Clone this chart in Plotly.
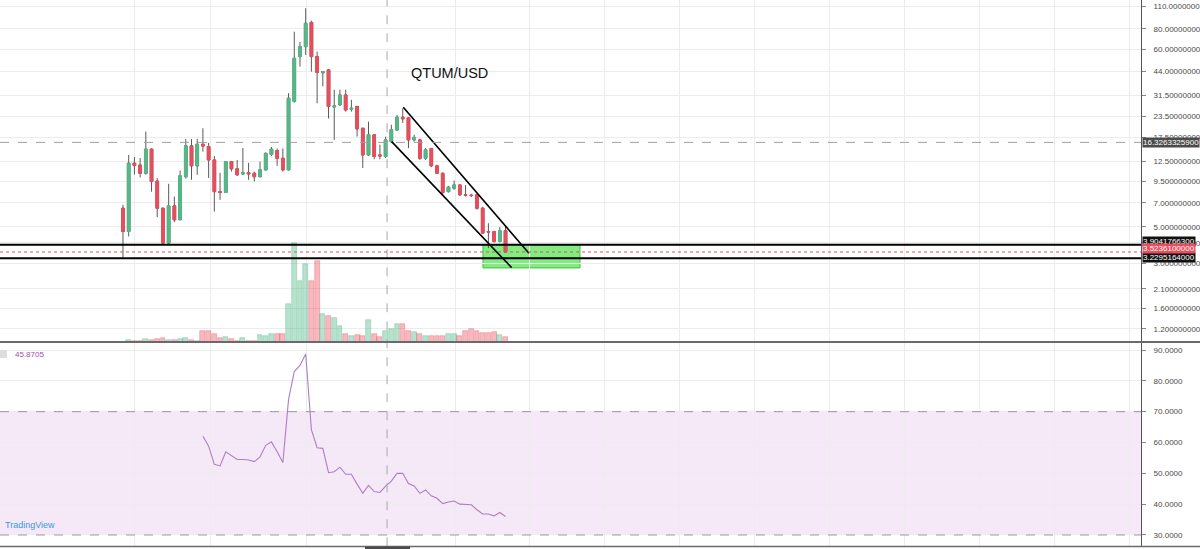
import math
import plotly.graph_objects as go

# ---------------- data ----------------
candle_idx = list(range(1, 69))

opens = [6.50, 4.69, 12.2, 11.9, 10.6, 14.85, 9.5, 6.5, 3.99, 6.72, 5.53, 10.1, 15.55, 11.76,
         15.9, 15.4, 12.77, 8.2, 8.1, 12.48, 11.28, 10.5, 10.7, 10.6, 10.1, 11.12, 13.8, 14.55,
         13.07, 11.12, 28.9, 54.2, 62.3, 87.5, 54.2, 43.2, 45.0, 26.8, 27.6, 31.7, 26.0, 27.0,
         19.9, 13.7, 18.15, 13.7, 13.4, 16.5, 19.4, 23.2, 23.0, 16.9, 16.9, 13.07, 15.0, 11.76,
         10.6, 8.2, 8.6, 9.0, 7.84, 7.8, 7.84, 6.5, 4.69, 4.69, 4.08, 4.75]
highs = [6.82, 13.7, 13.3, 13.1, 19.0, 15.0, 9.9, 6.55, 9.15, 7.66, 11.0, 17.1, 17.1, 17.1,
         19.9, 16.2, 13.5, 10.66, 12.5, 12.5, 12.77, 15.1, 12.26, 10.85, 12.48, 14.2, 15.3, 15.0,
         15.0, 32.5, 76.8, 66.7, 106.5, 89.5, 58.1, 44.3, 45.4, 34.1, 34.1, 34.1, 29.6, 27.2,
         20.0, 21.8, 18.2, 15.8, 17.7, 20.9, 23.9, 26.3, 23.3, 18.15, 17.2, 15.1, 15.1, 11.93,
         10.7, 8.89, 9.57, 9.02, 9.0, 7.95, 8.0, 6.63, 5.27, 4.7, 5.0, 5.0]
lows = [3.25, 4.38, 10.4, 10.0, 10.4, 8.2, 5.74, 3.94, 3.94, 5.35, 5.5, 9.84, 9.67, 10.37,
        14.35, 9.93, 6.2, 7.31, 8.1, 10.85, 10.22, 10.37, 9.67, 9.44, 10.0, 11.0, 13.5, 11.76,
        10.85, 11.0, 28.5, 47.1, 55.5, 43.9, 28.2, 35.8, 22.8, 16.9, 27.2, 25.1, 25.1, 17.7,
        11.4, 13.5, 12.9, 12.9, 13.1, 16.15, 19.2, 21.4, 15.05, 16.5, 12.77, 12.77, 11.55, 10.5,
        7.84, 8.09, 8.41, 7.73, 7.65, 7.6, 6.36, 4.55, 3.72, 4.02, 4.02, 3.50]
closes = [4.69, 12.2, 11.8, 10.6, 14.85, 9.44, 6.5, 3.99, 6.72, 5.53, 10.22, 15.55, 11.76, 15.9,
          15.5, 12.77, 8.2, 8.1, 12.48, 11.28, 10.37, 10.7, 10.5, 10.1, 11.12, 14.0, 14.85, 13.07,
          11.12, 30.3, 52.9, 62.3, 86.4, 54.2, 43.4, 44.0, 27.0, 27.2, 31.7, 25.7, 26.3, 19.7,
          13.7, 18.15, 13.4, 13.5, 16.9, 19.5, 23.2, 22.7, 16.9, 17.5, 13.07, 14.7, 11.76, 10.6,
          8.09, 8.73, 9.0, 7.84, 7.8, 7.76, 6.5, 4.59, 4.66, 4.08, 4.75, 3.5236]
volumes = [0.5, 1.5, 1.0, 0.8, 2.5, 2.0, 3.0, 3.5, 2.0, 1.5, 2.5, 3.7, 2.3, 1.2, 11, 11, 8, 4,
           5, 3, 1.2, 4, 1.2, 1.0, 7, 6, 8, 8, 8, 38, 98, 61, 78, 61, 81, 28, 26, 24, 16, 8, 6,
           7, 6, 22, 8, 5, 11, 13, 18, 18, 11, 10, 8, 6, 6, 6, 6, 8, 8, 6, 11, 13, 11, 9, 9, 10,
           7, 5]

rsi_idx = list(range(15, 69))
rsi_vals = [62.0, 58.8, 52.9, 52.4, 57.0, 55.6, 54.5, 54.5, 54.3, 53.8, 55.3, 59.1, 60.2, 57.0,
            53.5, 74.0, 83.0, 85.0, 88.7, 64.2, 58.3, 58.1, 50.2, 50.5, 52.0, 49.7, 49.7, 46.5,
            43.5, 46.1, 44.1, 43.8, 45.87, 47.5, 50.0, 50.0, 46.7, 45.9, 43.5, 44.6, 42.7, 41.9,
            40.2, 40.7, 41.0, 40.0, 40.0, 39.8, 38.2, 36.8, 36.8, 36.2, 37.3, 36.0]

price_ticks = [110, 80, 60, 44, 31.5, 23.5, 17.5, 12.5, 9.5, 7.0, 5.0, 4.0, 3.0, 2.1, 1.6, 1.2]
price_tick_text = ["110.0000000", "80.00000000", "60.00000000", "44.00000000", "31.50000000",
                   "23.50000000", "17.50000000", "12.50000000", "9.500000000", "7.000000000",
                   "5.000000000", "4.000000000", "3.000000000", "2.100000000", "1.600000000",
                   "1.200000000"]
rsi_ticks = [90, 80, 70, 60, 50, 40, 30]
time_grid = [3.1, 16.24, 33.22, 59.32, 72.28, 85.41, 98.55, 111.68, 124.82, 137.95, 151.09,
             164.22, 177.36]

# drawings
crosshair_price = 16.3263325900
crosshair_idx = 47.25
support_upper = 3.9041766300
support_lower = 3.2295164000
last_price = 3.5236100000
zone_x = [64.05, 81.04]
zone_y = [2.82, 3.9041766300]
channel_upper_x = [50.09, 72.1]
channel_upper_y = [26.7, 3.46]
channel_lower_x = [48.06, 69.07]
channel_lower_y = [16.5, 2.83]
rsi_band = [30, 70]
rsi_last_label = "45.8705"

# ---------------- figure ----------------
GREEN = "#53b987"
RED = "#eb4d5c"
WICK = "#5a5a5a"
XD = 1141 / 1200
FONT = "Liberation Sans"

fig = go.Figure()

vol_colors = ["rgba(83,185,135,0.42)" if c >= o else "rgba(235,77,92,0.40)"
              for o, c in zip(opens, closes)]
vol_line = ["rgba(83,185,135,0.6)" if c >= o else "rgba(235,77,92,0.55)"
            for o, c in zip(opens, closes)]
fig.add_trace(go.Bar(x=candle_idx, y=volumes, width=0.85, marker=dict(color=vol_colors,
                     line=dict(color=vol_line, width=0.6)), xaxis="x", yaxis="y"))

# wicks
fig.add_trace(go.Candlestick(x=candle_idx, open=opens, high=highs, low=lows, close=closes,
                             increasing=dict(line=dict(color=WICK, width=1), fillcolor=WICK),
                             decreasing=dict(line=dict(color=WICK, width=1), fillcolor=WICK),
                             whiskerwidth=0, xaxis="x", yaxis="y3"))
# bodies
body_hi = [max(o, c) for o, c in zip(opens, closes)]
body_lo = [min(o, c) for o, c in zip(opens, closes)]
fig.add_trace(go.Candlestick(x=candle_idx, open=opens, high=body_hi, low=body_lo, close=closes,
                             increasing=dict(line=dict(color=GREEN, width=1), fillcolor=GREEN),
                             decreasing=dict(line=dict(color=RED, width=1), fillcolor=RED),
                             whiskerwidth=0, xaxis="x", yaxis="y3"))

for cx, cy in [(channel_upper_x, channel_upper_y), (channel_lower_x, channel_lower_y)]:
    fig.add_trace(go.Scatter(x=cx, y=cy, mode="lines", line=dict(color="#000", width=1.6),
                             xaxis="x", yaxis="y3"))

fig.add_trace(go.Scatter(x=rsi_idx, y=rsi_vals, mode="lines",
                         line=dict(color="#b07cc6", width=1.1), xaxis="x", yaxis="y2"))

shapes = []
# RSI band
shapes.append(dict(type="rect", xref="paper", x0=0, x1=XD, yref="y2", y0=rsi_band[0],
                   y1=rsi_band[1], fillcolor="rgba(156,39,176,0.10)", line=dict(width=0),
                   layer="below"))
for lvl in rsi_band:
    shapes.append(dict(type="line", xref="paper", x0=0, x1=XD, yref="y2", y0=lvl, y1=lvl,
                       line=dict(color="#9a9a9a", width=1, dash="dash")))
# green zone
shapes.append(dict(type="rect", xref="x", x0=zone_x[0], x1=zone_x[1], yref="y3",
                   y0=zone_y[0], y1=zone_y[1], fillcolor="rgba(80,230,80,0.72)",
                   line=dict(color="#3fbf3f", width=1), layer="below"))
# crosshair
shapes.append(dict(type="line", xref="paper", x0=0, x1=XD, yref="y3", y0=crosshair_price,
                   y1=crosshair_price, line=dict(color="#a0a0a0", width=1, dash="dash")))
shapes.append(dict(type="line", xref="x", x0=crosshair_idx, x1=crosshair_idx, yref="paper",
                   y0=0.005, y1=1, line=dict(color="#a8a8a8", width=1, dash="dash")))
# support lines
for lvl in [support_upper, support_lower]:
    shapes.append(dict(type="line", xref="paper", x0=0, x1=XD, yref="y3", y0=lvl, y1=lvl,
                       line=dict(color="#000", width=2)))
shapes.append(dict(type="line", xref="paper", x0=0, x1=XD, yref="y3", y0=last_price,
                   y1=last_price, line=dict(color=RED, width=1, dash="dot")))
# pane separators
shapes.append(dict(type="line", xref="paper", x0=0, x1=1, yref="paper", y0=(549 - 342) / 549,
                   y1=(549 - 342) / 549, line=dict(color="#6a6a6a", width=2)))
shapes.append(dict(type="line", xref="paper", x0=0, x1=1, yref="paper", y0=(549 - 546.5) / 549,
                   y1=(549 - 546.5) / 549, line=dict(color="#6a6a6a", width=1.5)))
shapes.append(dict(type="rect", xref="paper", x0=365 / 1200, x1=410 / 1200, yref="paper",
                   y0=0, y1=(549 - 546.5) / 549, fillcolor="#4a4a4a", line=dict(width=0)))
shapes.append(dict(type="rect", xref="paper", x0=0, x1=7 / 1200, yref="paper",
                   y0=(549 - 358) / 549, y1=(549 - 350) / 549, fillcolor="#dddddd",
                   line=dict(width=0)))

annotations = [
    dict(text="QTUM/USD", xref="paper", yref="paper", x=449 / 1200, y=(549 - 73) / 549,
         xanchor="center", yanchor="middle", showarrow=False,
         font=dict(family=FONT, size=14.5, color="#111")),
    dict(text=rsi_last_label, xref="paper", yref="paper", x=13 / 1200, y=(549 - 354) / 549,
         xanchor="left", yanchor="middle", showarrow=False,
         font=dict(family=FONT, size=8, color="#9b50ad")),
    dict(text="TradingView", xref="paper", yref="paper", x=3 / 1200, y=(549 - 525) / 549,
         xanchor="left", yanchor="middle", showarrow=False,
         font=dict(family=FONT, size=9, color="#3a9ad9")),
]
# price labels on the right axis (stacked like the platform does)
for val, bg, shift in [(crosshair_price, "#4b4b4b", 0), (support_upper, "#111111", 3.5),
                       (support_lower, "#111111", 1), (last_price, RED, 3)]:
    annotations.append(dict(text=f"{val:.10f}", xref="paper", x=XD + 1 / 1200, xanchor="left",
                            yref="y3", y=math.log10(val), yanchor="middle", yshift=shift,
                            showarrow=False, bgcolor=bg, borderpad=0,
                            font=dict(family=FONT, size=8, color="#ffffff")))

fig.update_layout(
    width=1200, height=549, autosize=False, margin=dict(l=0, r=0, t=0, b=0, pad=0),
    paper_bgcolor="#ffffff", plot_bgcolor="#ffffff", showlegend=False, hovermode=False,
    boxgap=0.33, bargap=0,
    xaxis=dict(domain=[0, XD], range=[-20.54, 179.3], anchor="y2", showgrid=True,
               gridcolor="#ececec", tickvals=time_grid, showticklabels=False, ticks="",
               zeroline=False, showline=False, rangeslider=dict(visible=False),
               automargin=False),
    yaxis=dict(domain=[(549 - 342) / 549, 1], range=[0, 340], anchor="x", visible=False,
               showgrid=False, zeroline=False, automargin=False),
    yaxis3=dict(overlaying="y", type="log", range=[0.0001, 2.0779], anchor="x", side="right",
                tickvals=price_ticks, ticktext=price_tick_text,
                showgrid=True, gridcolor="#ececec", showline=True, linecolor="#555",
                linewidth=1, ticks="outside", ticklen=4, tickcolor="#888",
                ticklabelstandoff=6, automargin=False,
                tickfont=dict(family=FONT, size=8, color="#4a4a4a"), zeroline=False),
    yaxis2=dict(domain=[(549 - 546) / 549, (549 - 343) / 549], range=[26.43, 92.27],
                anchor="x", side="right", tickvals=rsi_ticks,
                ticktext=[f"{v:.4f}" for v in rsi_ticks], showgrid=True, gridcolor="#ececec",
                showline=True, linecolor="#555", linewidth=1, ticks="outside", ticklen=4,
                tickcolor="#888", ticklabelstandoff=6, automargin=False,
                tickfont=dict(family=FONT, size=8, color="#4a4a4a"), zeroline=False),
    shapes=shapes, annotations=annotations,
)

fig.write_html("out.html", config={"displayModeBar": False, "responsive": False},
               default_width="1200px", default_height="549px")
